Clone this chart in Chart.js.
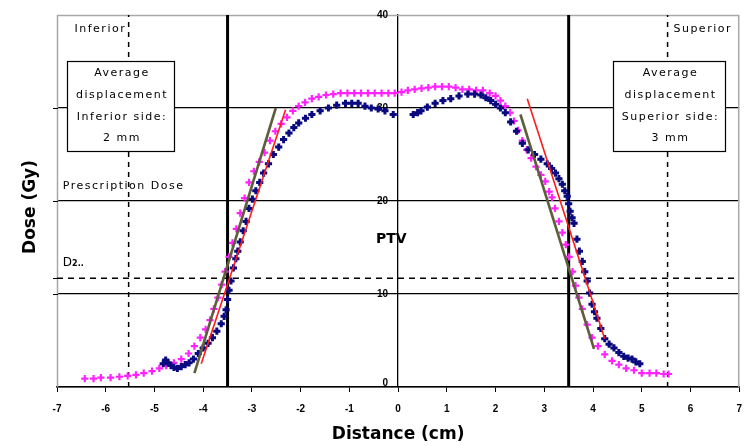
<!DOCTYPE html>
<html><head><meta charset="utf-8">
<script src="https://cdn.jsdelivr.net/npm/chart.js@4.4.1/dist/chart.umd.min.js"></script>
<style>html,body{margin:0;padding:0;background:#fff;}#wrap{width:753px;height:446px;}</style>
</head><body><div id="wrap"><canvas id="c" width="753" height="446"></canvas></div>
<script>
// ---- data ----
const xTickValues = [-7,-6,-5,-4,-3,-2,-1,0,1,2,3,4,5,6,7];
const yTickValues = [0,10,20,30,40];

const magentaX = [-6.43,-6.25,-6.1,-5.9,-5.72,-5.55,-5.38,-5.22,-5.05,-4.9,-4.76,-4.6,-4.45,-4.3,-4.18,-4.06,-3.95,-3.86,-3.78,-3.7,-3.62,-3.55,-3.47,-3.4,-3.32,-3.24,-3.15,-3.06,-2.96,-2.85,-2.74,-2.63,-2.52,-2.4,-2.28,-2.16,-2.04,-1.91,-1.77,-1.63,-1.48,-1.33,-1.18,-1.04,-0.9,-0.76,-0.62,-0.48,-0.34,-0.2,-0.07,0.07,0.2,0.34,0.48,0.62,0.76,0.9,1.04,1.18,1.32,1.46,1.6,1.74,1.88,2.0,2.1,2.2,2.3,2.38,2.46,2.55,2.64,2.73,2.83,2.93,3.02,3.1,3.16,3.22,3.3,3.37,3.44,3.51,3.58,3.64,3.71,3.78,3.88,3.98,4.1,4.24,4.39,4.53,4.68,4.84,5.0,5.16,5.3,5.45,5.55];
const magentaY = [0.9,0.9,1.0,1.0,1.1,1.2,1.3,1.5,1.7,2.0,2.3,2.6,3.0,3.6,4.4,5.3,6.2,7.2,8.4,9.6,11.0,12.4,14.0,15.5,17.0,18.7,20.3,22.0,23.2,24.2,25.2,26.5,27.5,28.3,29.0,29.7,30.2,30.6,31.0,31.2,31.4,31.5,31.6,31.6,31.6,31.6,31.6,31.6,31.6,31.6,31.6,31.7,31.9,32.0,32.1,32.2,32.3,32.3,32.3,32.2,32.0,32.0,31.9,31.9,31.6,31.3,30.8,30.2,29.5,28.6,27.6,26.5,25.5,24.6,23.7,22.8,22.1,21.0,20.4,19.2,17.8,16.6,15.3,14.0,12.4,10.9,9.6,8.4,6.7,5.3,4.4,3.5,2.8,2.4,2.0,1.8,1.5,1.5,1.5,1.4,1.4];

const navyX = [-4.82,-4.77,-4.72,-4.66,-4.6,-4.53,-4.45,-4.37,-4.29,-4.2,-4.1,-4.0,-3.9,-3.81,-3.72,-3.63,-3.57,-3.53,-3.5,-3.47,-3.43,-3.38,-3.33,-3.29,-3.24,-3.18,-3.12,-3.06,-2.99,-2.92,-2.84,-2.76,-2.66,-2.56,-2.45,-2.35,-2.24,-2.14,-2.04,-1.9,-1.77,-1.6,-1.43,-1.26,-1.08,-0.95,-0.82,-0.68,-0.55,-0.41,-0.27,-0.1,0.31,0.4,0.47,0.6,0.76,0.92,1.08,1.25,1.43,1.57,1.7,1.8,1.9,2.0,2.1,2.2,2.31,2.43,2.55,2.67,2.8,2.93,3.06,3.15,3.23,3.3,3.37,3.42,3.47,3.5,3.53,3.57,3.61,3.67,3.72,3.78,3.83,3.88,3.93,3.98,4.03,4.08,4.16,4.24,4.33,4.43,4.53,4.63,4.72,4.8,4.88,4.96];
const navyY = [2.5,2.9,2.6,2.3,2.1,2.0,2.2,2.4,2.6,3.0,3.6,4.2,4.7,5.3,6.0,6.8,7.6,8.3,9.4,10.4,11.4,12.8,13.8,14.6,15.6,16.8,17.8,19.2,20.2,21.1,22.0,23.0,24.0,25.0,25.8,26.6,27.3,27.9,28.4,28.9,29.3,29.7,30.0,30.3,30.5,30.5,30.5,30.2,30.0,29.9,29.7,29.3,29.3,29.5,29.7,30.1,30.5,30.8,31.0,31.3,31.5,31.5,31.4,31.1,30.8,30.4,30.0,29.5,28.5,27.5,26.2,25.5,25.0,24.5,24.0,23.5,23.0,22.4,21.8,21.1,20.5,19.7,18.9,18.2,17.6,15.9,14.6,13.5,12.4,11.4,10.1,8.9,8.1,7.4,6.3,5.2,4.6,4.2,3.7,3.3,3.1,3.0,2.7,2.5];

const redLeftX = [-4.04,-2.31];   const redLeftY = [2.5,29.8];
const redRightX = [2.65,4.24];    const redRightY = [31.0,5.2];
const oliveLeftX = [-4.18,-2.51]; const oliveLeftY = [1.5,30.0];
const oliveRightX = [2.51,4.02];  const oliveRightY = [29.3,4.1];

const ptvEdges = [-3.5, 3.5];
const marginEdges = [-5.53, 5.53];
const dLevel = 11.7;

const labels = {
  inferior: 'Inferior', superior: 'Superior',
  prescription: 'Prescription Dose', ptv: 'PTV',
  leftBox: ['Average','displacement','Inferior side:','2 mm'],
  rightBox: ['Average','displacement','Superior side:','3 mm'],
  xTitle: 'Distance (cm)', yTitle: 'Dose (Gy)'
};

// ---- build datasets ----
const pts = (xs, ys) => xs.map((x, i) => ({x, y: ys[i]}));
const vline = (x) => [{x, y: yTickValues[0]}, {x, y: yTickValues[yTickValues.length-1]}];
const hline = (y) => [{x: xTickValues[0], y}, {x: xTickValues[xTickValues.length-1], y}];

const lineDs = (data, color, width, dash, order) => ({
  data, showLine: true, borderColor: color, borderWidth: width, borderDash: dash || [],
  pointRadius: 0, pointHoverRadius: 0, fill: false, order
});

const datasets = [
  lineDs(pts(redLeftX, redLeftY), '#ff1a1a', 1.6, null, 1),
  lineDs(pts(redRightX, redRightY), '#ff1a1a', 1.6, null, 1),
  lineDs(pts(oliveLeftX, oliveLeftY), '#5e5e3c', 2.6, null, 2),
  lineDs(pts(oliveRightX, oliveRightY), '#5e5e3c', 2.6, null, 2),
  { data: pts(navyX, navyY), showLine: false, pointStyle: 'cross', pointRadius: 3.6,
    pointBorderWidth: 3, pointBorderColor: '#0a0a80', pointBackgroundColor: '#0a0a80', order: 3 },
  { data: pts(magentaX, magentaY), showLine: false, pointStyle: 'cross', pointRadius: 3.6,
    pointBorderWidth: 2.2, pointBorderColor: '#ff22ff', pointBackgroundColor: '#ff22ff', order: 4 },
  ...ptvEdges.map(v => lineDs(vline(v), '#000', 3, null, 10)),
  ...marginEdges.map(v => lineDs(vline(v), '#000', 1.5, [5,5], 11)),
  lineDs(hline(dLevel), '#000', 1.5, [6,5], 11)
];

// ---- decorations ----
const FONT_SMALL = '11px "DejaVu Sans"';
const decor = {
  id: 'decor',
  beforeDatasetsDraw(chart) {
    const {ctx, chartArea: a, scales: {x, y}} = chart;
    ctx.save();
    ctx.strokeStyle = '#a8a8a8'; ctx.lineWidth = 1.5;
    ctx.beginPath();
    ctx.moveTo(a.left + 0.5, a.bottom); ctx.lineTo(a.left + 0.5, a.top + 0.5);
    ctx.lineTo(a.right - 0.5, a.top + 0.5); ctx.lineTo(a.right - 0.5, a.bottom);
    ctx.stroke();
    ctx.strokeStyle = '#000'; ctx.lineWidth = 1;
    [10, 20, 30, dLevel].forEach(v => {
      const py = Math.round(y.getPixelForValue(v)) + 0.5;
      ctx.beginPath(); ctx.moveTo(a.left - 4, py); ctx.lineTo(a.left + 1, py); ctx.stroke();
    });
    // y tick labels (left of the centred axis)
    ctx.fillStyle = '#000';
    ctx.font = 'bold 10px "Liberation Sans"';
    ctx.textAlign = 'right'; ctx.textBaseline = 'middle';
    const ax = x.getPixelForValue(0);
    yTickValues.forEach(v => {
      const off = v === 0 ? -4 : 0;
      ctx.fillText(String(v), ax - 10, y.getPixelForValue(v) + off);
    });
    // y title
    ctx.font = 'bold 17px "DejaVu Sans"';
    ctx.textAlign = 'center';
    ctx.translate(31, (a.top + a.bottom) / 2 + 6);
    ctx.rotate(-Math.PI / 2);
    ctx.fillText(labels.yTitle, 0, 0);
    ctx.restore();
  },
  afterDatasetsDraw(chart) {
    const {ctx, scales: {x, y}} = chart;
    const X = v => x.getPixelForValue(v), Y = v => y.getPixelForValue(v);
    ctx.save();
    ctx.fillStyle = '#000';
    ctx.font = FONT_SMALL;
    ctx.letterSpacing = '1.5px';
    ctx.textBaseline = 'middle';
    ctx.textAlign = 'right';
    ctx.fillText(labels.inferior, X(-5.58), Y(38.5));
    ctx.textAlign = 'left';
    ctx.fillText(labels.superior, X(5.65), Y(38.5));
    ctx.fillText(labels.prescription, X(-6.88), Y(21.6));
    // D label with subscript
    ctx.font = '12px "DejaVu Sans"';
    ctx.letterSpacing = '0px';
    ctx.fillText('D', X(-6.88), Y(13.3));
    const dw = ctx.measureText('D').width;
    ctx.font = 'bold 8px "DejaVu Sans"';
    ctx.fillText('2..', X(-6.88) + dw, Y(13.3) + 1);
    // PTV
    ctx.font = 'bold 14px "DejaVu Sans"';
    ctx.textAlign = 'center';
    ctx.fillText(labels.ptv, X(-0.14), Y(15.9));
    // boxes
    const box = (x0, x1, lines) => {
      const l = Math.round(X(x0)) + 0.5, r = Math.round(X(x1)) + 0.5;
      const t = Math.round(Y(35.05)) + 0.5, b = Math.round(Y(25.4)) + 0.5;
      ctx.fillStyle = '#fff';
      ctx.fillRect(l, t, r - l, b - t);
      ctx.strokeStyle = '#000'; ctx.lineWidth = 1.2;
      ctx.strokeRect(l, t, r - l, b - t);
      ctx.fillStyle = '#000';
      ctx.font = FONT_SMALL; ctx.letterSpacing = '1.5px';
      ctx.textAlign = 'center';
      const cx = (l + r) / 2 + 1;
      lines.forEach((s, i) => ctx.fillText(s, cx, t + 12 + i * 21.7));
    };
    box(-6.8, -4.59, labels.leftBox);
    box(4.41, 6.71, labels.rightBox);
    ctx.restore();
  }
};

new Chart(document.getElementById('c'), {
  type: 'scatter',
  data: { datasets },
  plugins: [decor],
  options: {
    responsive: false, animation: false, devicePixelRatio: 1,
    layout: { padding: { left: 57, right: 10, top: 15, bottom: 0 } },
    plugins: { legend: { display: false }, tooltip: { enabled: false } },
    scales: {
      x: {
        type: 'linear', min: -7, max: 7, position: 'bottom',
        afterFit: s => { s.height = 59; },
        afterBuildTicks: s => { s.ticks = xTickValues.map(v => ({value: v})); },
        ticks: { color: '#000', font: { family: 'Liberation Sans', weight: 'bold', size: 10 }, padding: 11, maxRotation: 0 },
        grid: { drawOnChartArea: false, drawTicks: true, tickLength: 5, color: '#000', lineWidth: 1 },
        border: { color: '#000', width: 1.5 },
        title: { display: true, text: labels.xTitle, color: '#000', font: { family: 'DejaVu Sans', weight: 'bold', size: 17 }, padding: { top: 0, bottom: 1 } }
      },
      y: {
        type: 'linear', min: 0, max: 40, position: { x: 0 },
        afterBuildTicks: s => { s.ticks = yTickValues.map(v => ({value: v})); },
        ticks: { display: false },
        grid: { drawTicks: false, lineWidth: 1.3,
          color: c => (c.tick && c.tick.value === 40) ? 'rgba(0,0,0,0)' : '#000' },
        border: { color: '#000', width: 1.3 }
      }
    }
  }
});
</script></body></html>
